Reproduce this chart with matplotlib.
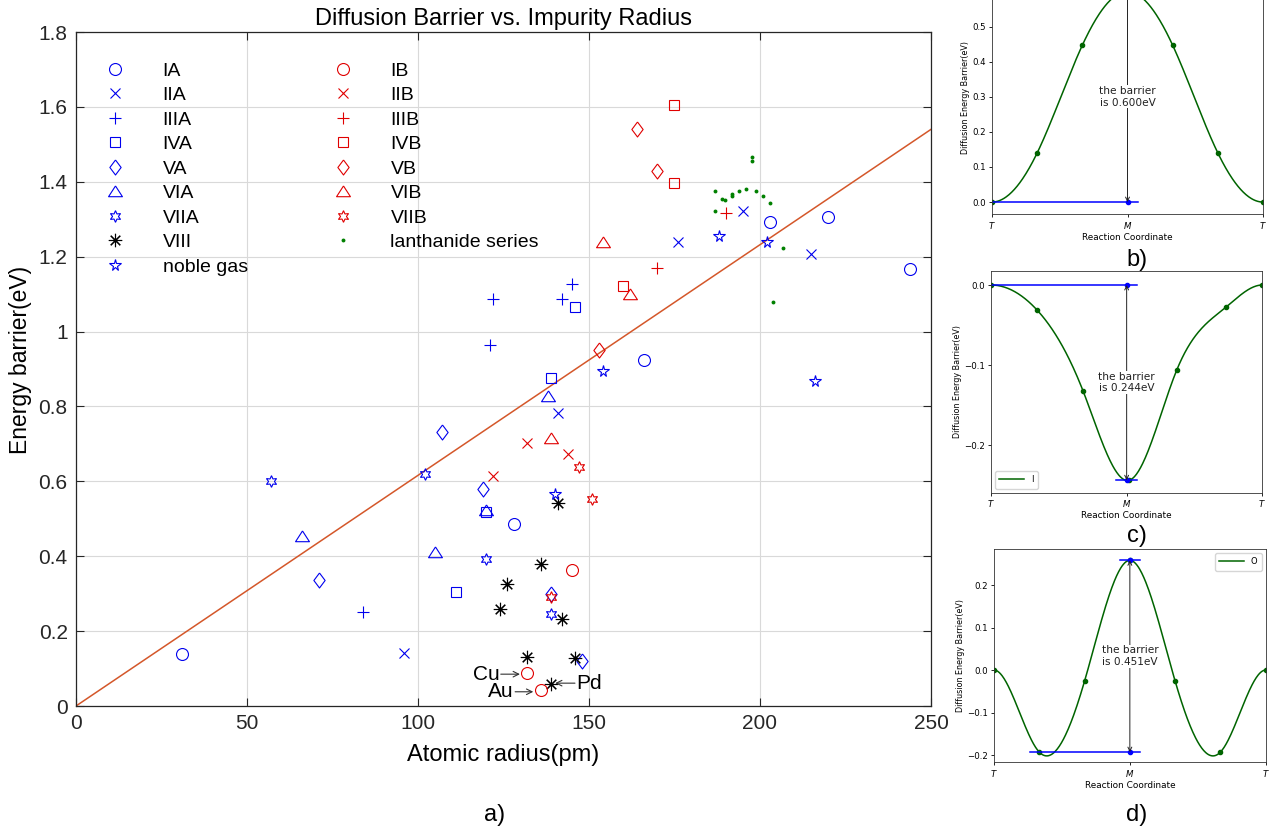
import numpy as np
import matplotlib
matplotlib.use("Agg")
import matplotlib.pyplot as plt

plt.rcParams['font.family'] = ['Liberation Sans', 'DejaVu Sans']

# ---------------- data, main panel a) ----------------
ia_r = [31, 128, 166, 203, 220, 244]
ia_e = [0.140, 0.487, 0.925, 1.292, 1.305, 1.167]
iia_r = [96, 141, 176, 195, 215]
iia_e = [0.142, 0.782, 1.239, 1.322, 1.207]
iiia_r = [84, 121, 122, 142, 145]
iiia_e = [0.251, 0.963, 1.086, 1.087, 1.127]
iva_r = [111, 120, 139, 146]
iva_e = [0.304, 0.519, 0.877, 1.065]
va_r = [71, 107, 119, 139, 148]
va_e = [0.337, 0.732, 0.580, 0.299, 0.120]
via_r = [66, 105, 120, 138]
via_e = [0.454, 0.412, 0.524, 0.829]
viia_r = [57, 102, 120, 139]
viia_e = [0.600, 0.620, 0.393, 0.246]
viii_r = [141, 136, 126, 124, 142, 132, 146, 139]
viii_e = [0.542, 0.379, 0.325, 0.258, 0.232, 0.132, 0.127, 0.060]
noble_r = [140, 154, 188, 202, 216]
noble_e = [0.567, 0.894, 1.255, 1.240, 0.868]

ib_r = [132, 145, 136]
ib_e = [0.089, 0.363, 0.043]
iib_r = [122, 132, 144]
iib_e = [0.615, 0.703, 0.672]
iiib_r = [170, 190]
iiib_e = [1.169, 1.316]
ivb_r = [160, 175, 175]
ivb_e = [1.122, 1.396, 1.605]
vb_r = [153, 164, 170]
vb_e = [0.951, 1.540, 1.430]
vib_r = [139, 154, 162]
vib_e = [0.717, 1.238, 1.100]
viib_r = [139, 147, 151]
viib_e = [0.290, 0.639, 0.553]
lan_r = [197.8, 197.8, 186.8, 188.8, 189.8, 191.9, 191.9, 193.9, 195.8,
         198.8, 200.8, 202.9, 186.8, 206.8, 203.9]
lan_e = [1.465, 1.455, 1.376, 1.354, 1.350, 1.367, 1.362, 1.376, 1.380,
         1.375, 1.362, 1.343, 1.323, 1.222, 1.078]

fit_r = [0, 250]
fit_e = [0, 1.54]

# ---------------- data, NEB panels b) c) d) ----------------
b_x = [0, 1/3, 2/3, 1, 4/3, 5/3, 2]
b_e = [0.0, 0.140, 0.447, 0.600, 0.447, 0.140, 0.0]
c_x = [0, 0.338, 0.68, 1.02, 1.37, 1.73, 2.0]
c_e = [0.0, -0.031, -0.133, -0.244, -0.106, -0.028, 0.0]
d_x = [0, 1/3, 2/3, 1, 4/3, 5/3, 2]
d_e = [0.0, -0.193, -0.026, 0.258, -0.026, -0.193, 0.0]


def clamped_spline(x, y, n=400):
    # cubic spline with zero slope at both ends, just for drawing the path
    x = np.asarray(x, float); y = np.asarray(y, float)
    m = len(x); h = np.diff(x)
    A = np.zeros((m, m)); rhs = np.zeros(m)
    A[0, 0], A[0, 1] = 2*h[0], h[0]
    rhs[0] = 3*(y[1]-y[0])/h[0]
    A[-1, -2], A[-1, -1] = h[-1], 2*h[-1]
    rhs[-1] = -3*(y[-1]-y[-2])/h[-1]
    for i in range(1, m-1):
        A[i, i-1], A[i, i], A[i, i+1] = h[i-1], 2*(h[i-1]+h[i]), h[i]
        rhs[i] = 3*((y[i+1]-y[i])/h[i] - (y[i]-y[i-1])/h[i-1])
    c = np.linalg.solve(A, rhs)
    bq = (y[1:]-y[:-1])/h - h*(2*c[:-1]+c[1:])/3
    dq = (c[1:]-c[:-1])/(3*h)
    xs = np.linspace(x[0], x[-1], n)
    k = np.clip(np.searchsorted(x, xs, side='right')-1, 0, m-2)
    t = xs - x[k]
    return xs, y[k] + bq[k]*t + c[k]*t**2 + dq[k]*t**3


BLUE = '#0000ee'
RED = '#e00000'
W, H = 1269, 834
fig = plt.figure(figsize=(W/100, H/100), dpi=100)

ax = fig.add_axes([76/W, 128/H, 855/W, 674/H])

diamond = [(0, 1), (0.75, 0), (0, -1), (-0.75, 0), (0, 1)]
triangle = [(0, 0.8), (1, -0.75), (-1, -0.75), (0, 0.8)]
hexagram = (6, 1, 0)
aster = (8, 2, 0)
mew = 0.8

groups = [
    (ia_r, ia_e, 'o', BLUE, 8.6, 'IA'),
    (iia_r, iia_e, 'x', BLUE, 6.7, 'IIA'),
    (iiia_r, iiia_e, '+', BLUE, 8.9, 'IIIA'),
    (iva_r, iva_e, 's', BLUE, 6.7, 'IVA'),
    (va_r, va_e, diamond, BLUE, 10.8, 'VA'),
    (via_r, via_e, triangle, BLUE, 10.0, 'VIA'),
    (viia_r, viia_e, hexagram, BLUE, 8.4, 'VIIA'),
    (viii_r, viii_e, aster, 'k', 9.6, 'VIII'),
    (noble_r, noble_e, '*', BLUE, 8.5, 'noble gas'),
    (ib_r, ib_e, 'o', RED, 8.6, 'IB'),
    (iib_r, iib_e, 'x', RED, 6.7, 'IIB'),
    (iiib_r, iiib_e, '+', RED, 8.9, 'IIIB'),
    (ivb_r, ivb_e, 's', RED, 6.7, 'IVB'),
    (vb_r, vb_e, diamond, RED, 10.8, 'VB'),
    (vib_r, vib_e, triangle, RED, 10.0, 'VIB'),
    (viib_r, viib_e, hexagram, RED, 8.4, 'VIIB'),
]
handles = []
for r, e, mk, col, ms, lab in groups:
    h, = ax.plot(r, e, ls='none', marker=mk, ms=ms, mfc='none', mec=col,
                 mew=mew, label=lab, zorder=3)
    handles.append(h)
h, = ax.plot(lan_r, lan_e, ls='none', marker='o', ms=2.8, mfc='#008000',
             mec='none', label='lanthanide series', zorder=3)
handles.append(h)

ax.plot(fit_r, fit_e, color='#d4572a', lw=1.1, zorder=2)

ax.set_xlim(0, 250)
ax.set_ylim(0, 1.8)
ax.set_xticks([0, 50, 100, 150, 200, 250])
ax.set_yticks(np.arange(0, 1.81, 0.2))
ax.set_yticklabels(['0', '0.2', '0.4', '0.6', '0.8', '1', '1.2', '1.4', '1.6', '1.8'])
ax.grid(True, color='#d9d9d9', lw=0.8)
ax.set_axisbelow(True)
ax.tick_params(direction='in', length=6, width=0.8, top=True, right=True,
               labelsize=15, colors='#262626', pad=6)
for s in ax.spines.values():
    s.set_color('#262626')
    s.set_linewidth(0.9)

ax.set_title('Diffusion Barrier vs. Impurity Radius', fontsize=17, pad=5)
ax.set_xlabel('Atomic radius(pm)', fontsize=17)
ax.xaxis.set_label_coords(0.5, -0.057)
ax.set_ylabel('Energy barrier(eV)', fontsize=16.5)
ax.yaxis.set_label_coords(-0.052, 0.513)

leg_kw = dict(loc='upper left', frameon=False, fontsize=14, borderpad=0,
              borderaxespad=0, handlelength=2.0, handletextpad=1.42,
              labelspacing=0.355)
leg1 = ax.legend(handles=handles[:9], bbox_to_anchor=(0.0234, 0.9555), **leg_kw)
ax.add_artist(leg1)
ax.legend(handles=handles[9:], bbox_to_anchor=(0.290, 0.9555), **leg_kw)

arr = dict(arrowstyle='->', lw=0.8, color='#333333', shrinkA=0, shrinkB=0)
ax.annotate('', xy=(129.8, 0.085), xytext=(124.2, 0.085), arrowprops=arr)
ax.text(123.8, 0.085, 'Cu', ha='right', va='center', fontsize=15)
ax.annotate('', xy=(133.7, 0.038), xytext=(128.4, 0.038), arrowprops=arr)
ax.text(127.9, 0.038, 'Au', ha='right', va='center', fontsize=15)
ax.annotate('', xy=(140.1, 0.061), xytext=(145.9, 0.061), arrowprops=arr)
ax.text(146.3, 0.061, 'Pd', ha='left', va='center', fontsize=15)

fig.text(495/W, 1-815/H, 'a)', ha='center', va='center', fontsize=17)

# ---------------- NEB panels ----------------
def neb_panel(rect, xs, es, ylim, yticks, hlines, arrow, label_txt, legend):
    a = fig.add_axes(rect)
    sx, sy = clamped_spline(xs, es)
    a.plot(sx, sy, color='#006400', lw=1.1, label=legend)
    a.plot(xs, es, ls='none', marker='o', ms=3.0, color='#006400')
    for y0, x0, x1 in hlines:
        a.plot([x0, x1], [y0, y0], color='#0000ff', lw=1.1)
        a.plot([1], [y0], ls='none', marker='o', ms=3.0, color='#0000ff')
    y_top, y_bot = arrow
    a.annotate('', xy=(1, y_bot), xytext=(1, y_top),
               arrowprops=dict(arrowstyle='<->', lw=0.7, color='#222222',
                               shrinkA=0, shrinkB=0, mutation_scale=7))
    a.text(1, (y_top+y_bot)/2, label_txt, ha='center', va='center',
           fontsize=7.6, family='DejaVu Sans', color='#222222',
           bbox=dict(fc='white', ec='none', pad=0.5))
    a.set_xlim(0, 2)
    a.set_ylim(*ylim)
    a.set_xticks([0, 1, 2])
    a.set_xticklabels(['$T$', '$M$', '$T$'])
    a.set_yticks(yticks)
    a.set_yticklabels([f'{v:.1f}'.replace('-', '\u2212') for v in yticks])
    a.tick_params(labelsize=6.2, length=2.5, width=0.6, pad=1.5,
                  labelfontfamily='DejaVu Sans')
    for s in a.spines.values():
        s.set_linewidth(0.6)
        s.set_color('#333333')
    a.set_xlabel('Reaction Coordinate', fontsize=6.4, family='DejaVu Sans',
                 labelpad=1.5)
    a.set_ylabel('Diffusion Energy Barrier(eV)', fontsize=5.8,
                 family='DejaVu Sans', labelpad=2)
    return a

neb_panel([992/W, 1-214/H, 271/W, 233/H], b_x, b_e, (-0.034, 0.63),
          [0.0, 0.1, 0.2, 0.3, 0.4, 0.5],
          [(0.0, 0.0, 1.075), (0.6, 0.925, 1.075)], (0.6, 0.0),
          'the barrier\nis 0.600eV', None)

ac = neb_panel([991/W, 1-492.7/H, 271.3/W, 221.7/H], c_x, c_e, (-0.2596, 0.0175),
               [0.0, -0.1, -0.2],
               [(0.0, 0.0, 1.075), (-0.244, 0.925, 1.075)], (0.0, -0.244),
               'the barrier\nis 0.244eV', 'I')
ac.legend(loc='lower left', handlelength=3, borderpad=0.5,
          prop={'family': 'DejaVu Sans', 'size': 6})

ad = neb_panel([994/W, 1-762.3/H, 271.7/W, 213.3/H], d_x, d_e, (-0.217, 0.2847),
               [-0.2, -0.1, 0.0, 0.1, 0.2],
               [(0.258, 0.925, 1.075), (-0.193, 0.263, 1.075)], (0.258, -0.193),
               'the barrier\nis 0.451eV', 'O')
ad.legend(loc='upper right', handlelength=3, borderpad=0.5,
          prop={'family': 'DejaVu Sans', 'size': 6})

for txt, yy in [('b)', 260), ('c)', 536), ('d)', 815)]:
    fig.text(1137/W, 1-yy/H, txt, ha='center', va='center', fontsize=17)

fig.savefig('out.png', dpi=100)
